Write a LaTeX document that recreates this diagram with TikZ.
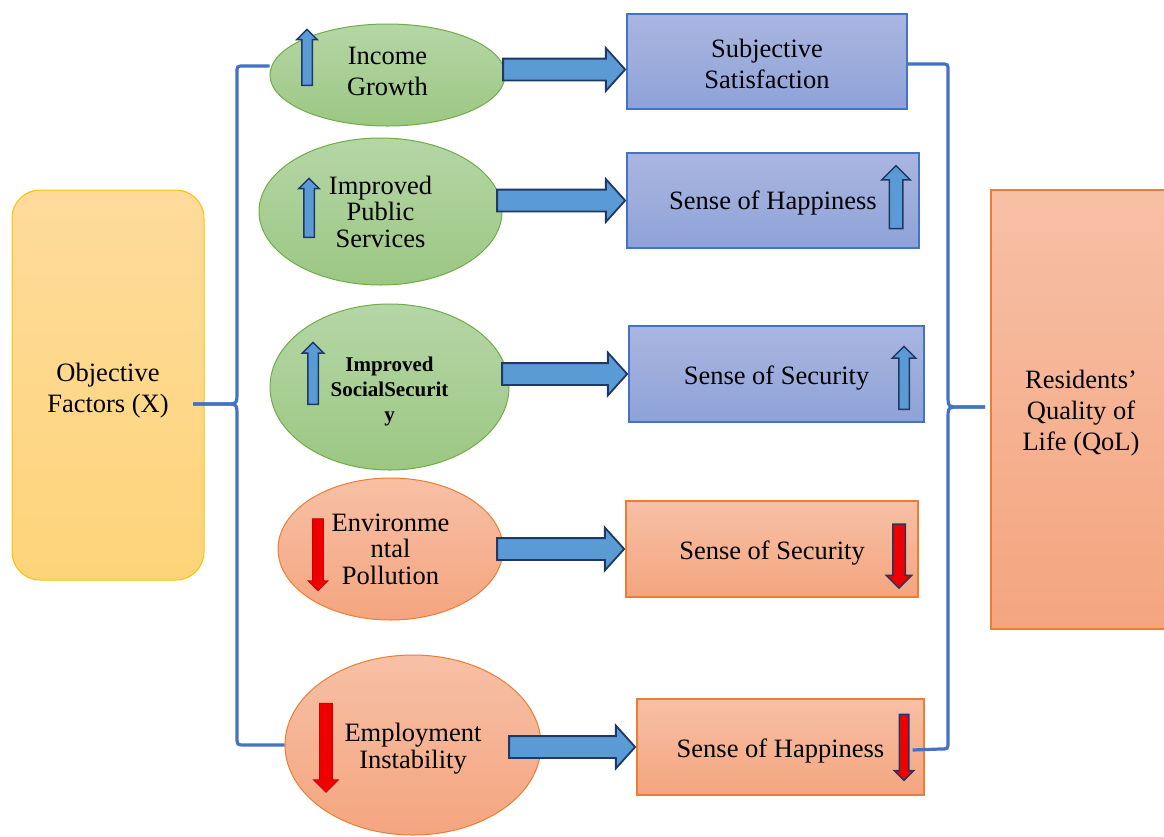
\documentclass[tikz,border=0pt]{standalone}
\usepackage{fontspec}
\setmainfont{Liberation Serif}
\usepackage{tikz}
\usetikzlibrary{positioning}
\usetikzlibrary{shapes.geometric}
\usetikzlibrary{shapes.arrows}

\definecolor{greentop}{HTML}{B5D6A6}
\definecolor{greenbot}{HTML}{9CC783}
\definecolor{greenline}{HTML}{70AD47}
\definecolor{orangetop}{HTML}{F7C0A6}
\definecolor{orangebot}{HTML}{F4A57F}
\definecolor{orangeline}{HTML}{ED7D31}
\definecolor{bluetop}{HTML}{AAB6E0}
\definecolor{bluebot}{HTML}{8EA2D8}
\definecolor{blueline}{HTML}{4472C4}
\definecolor{yellowtop}{HTML}{FEDB9B}
\definecolor{yellowbot}{HTML}{FED47A}
\definecolor{yellowline}{HTML}{FFC000}
\definecolor{arrowfill}{HTML}{5B9BD5}
\definecolor{arrowline}{HTML}{203864}
\definecolor{downred}{HTML}{EE0000}

% strut on a first line, to set the text a bit lower
\newcommand{\firstdrop}[1]{\rule{0pt}{#1}}

\tikzset{
	txt/.style={font=\fontsize{26.5}{31}\selectfont, align=center},
	% struts to move the text of a node down (drop) or up (lift)
	drop/.style={execute at begin node={\rule{0pt}{#1}}},
	lift/.style={execute at end node={\rule[-#1]{0pt}{1pt}}},
	upfactor/.style={draw=greenline, line width=1pt, ellipse, inner sep=0pt, top color=greentop, bottom color=greenbot, txt},
	downfactor/.style={draw=orangeline, line width=1pt, ellipse, inner sep=0pt, top color=orangetop, bottom color=orangebot, txt},
	upeffect/.style={draw=blueline, line width=1.3pt, rectangle, inner sep=0pt, top color=bluetop, bottom color=bluebot, txt},
	downeffect/.style={draw=orangeline, line width=1.3pt, rectangle, inner sep=0pt, top color=orangetop, bottom color=orangebot, txt},
	% block arrows from a factor to its effect
	bigarrow/.style={single arrow, draw=arrowline, line width=1.8pt, fill=arrowfill, anchor=tip, inner xsep=0pt, inner ysep=10pt, minimum width=41pt, single arrow head extend=10.5pt, single arrow tip angle=96},
	riseicon/.style n args={4}{single arrow, rotate=90, draw=arrowline, line width=1.5pt, fill=arrowfill, inner xsep=0pt, minimum height=#1, minimum width=#2, inner ysep=#3, single arrow head extend=#4, single arrow tip angle=90},
	fallicon/.style n args={4}{single arrow, rotate=-90, draw=downred!85!black, line width=0.8pt, fill=downred, inner xsep=0pt, minimum height=#1, minimum width=#2, inner ysep=#3, single arrow head extend=#4, single arrow tip angle=90},
	brace/.style={draw=blueline, line width=3.2pt},
}

\begin{document}
\begin{tikzpicture}[x=1pt, y=-1pt]
	\useasboundingbox (0,0) rectangle (1164,836);
	
	\node (obj) [draw=yellowline, line width=1pt, rounded corners=28pt, top color=yellowtop, bottom color=yellowbot, minimum width=192pt, minimum height=390pt, txt] at (108,385) {\firstdrop{29pt}Objective\\Factors (X)};
	
	\node (ig) [upfactor, minimum width=235pt, minimum height=102pt, lift=8pt] at (387.5,75) {Income\\Growth};
	\node (ips) [upfactor, minimum width=243pt, minimum height=147pt, font=\fontsize{26.5}{26.5}\selectfont] at (380.5,211.5) {Improved\\Public\\Services};
	\node (ssy) [upfactor, minimum width=239pt, minimum height=166pt, font=\fontsize{21}{25}\selectfont\bfseries] at (389.5,387) {\firstdrop{23.5pt}Improved\\SocialSecurit\\y};
	\node (env) [downfactor, minimum width=225pt, minimum height=142pt, font=\fontsize{26.5}{26.5}\selectfont] at (390.5,549) {Environme\\ntal\\Pollution};
	\node (ei) [downfactor, minimum width=256pt, minimum height=180pt, font=\fontsize{26.5}{27}\selectfont] at (413,745) {\firstdrop{26.5pt}Employment\\Instability};
	
	\node (sat) [upeffect, minimum width=280pt, minimum height=95pt] at (767,61.5) {\firstdrop{22.5pt}Subjective\\Satisfaction};
	\node (hap1) [upeffect, minimum width=292pt, minimum height=95pt, drop=24.5pt] at (773,200.5) {Sense of Happiness};
	\node (sec1) [upeffect, minimum width=295pt, minimum height=96pt, drop=26.5pt] at (776.5,374) {Sense of Security};
	\node (sec2) [downeffect, minimum width=292pt, minimum height=96pt, drop=26.5pt] at (772,549) {Sense of Security};
	\node (hap2) [downeffect, minimum width=287pt, minimum height=96pt, drop=26.5pt] at (780.5,747) {Sense of Happiness};
	
	\node (qol) [draw=orangeline, line width=1.3pt, top color=orangetop, bottom color=orangebot, minimum width=180pt, minimum height=439pt, txt] at (1081,409.5) {\firstdrop{25pt}Residents’\\Quality of\\Life (QoL)};
	
	\coordinate (lb) at (193,404);
	\coordinate (rb) at (985,407);
	
	\draw[brace] ([yshift=9pt]ig.west) -- (244,66) .. controls (237,66) .. (237,73) -- (237,392) .. controls (237,404) .. (224,404) -- (lb);
	\draw[brace] (lb) -- (224,404) .. controls (237,404) .. (237,416) -- (237,737) .. controls (237,745) .. (245,745) -- (ei.west);
	\draw[brace] ([yshift=-2.5pt]sat.east) -- (941,64) .. controls (948,64) .. (948,71) -- (948,395) .. controls (948,407) .. (961,407) -- (rb);
	\draw[brace] (rb) -- (961,407) .. controls (948,407) .. (948,419) -- (948,742) .. controls (948,749) .. (940,749) -- ([xshift=-12pt,yshift=-3pt]hap2.east);
	
	\node (ar1) [bigarrow, minimum height=122pt, yshift=-8pt] at (sat.west) {};
	\node (ar2) [bigarrow, minimum height=128pt] at (hap1.west) {};
	\node (ar3) [bigarrow, minimum height=125pt] at (sec1.west) {};
	\node (ar4) [bigarrow, minimum height=127pt] at (sec2.west) {};
	\node (ar5) [bigarrow, minimum height=126pt] at (hap2.west) {};
	
	\node (up1) [riseicon={56pt}{19pt}{4.5pt}{5pt}] at (307,60) {};
	\node (up2) [riseicon={59pt}{19pt}{4.5pt}{5pt}] at (309,210.5) {};
	\node (up3) [riseicon={62pt}{20pt}{4.5pt}{5.5pt}] at (313,376) {};
	\node (up4) [riseicon={63pt}{27pt}{6pt}{7.5pt}] at (896,200.5) {};
	\node (up5) [riseicon={63pt}{22pt}{4.5pt}{6.5pt}] at (904,380.5) {};
	
	\node (dn1) [fallicon={72pt}{19pt}{5pt}{4.5pt}] at (318,552) {};
	\node (dn2) [fallicon={89pt}{24pt}{6pt}{6pt}] at (326,744.5) {};
	\node (dn3) [fallicon={64pt}{24pt}{5.5pt}{6.5pt}, draw=arrowline, line width=1.5pt] at (899,553) {};
	\node (dn4) [fallicon={66pt}{18pt}{4pt}{5pt}, draw=arrowline, line width=1.5pt] at (904,745) {};
	
\end{tikzpicture}
\end{document}
